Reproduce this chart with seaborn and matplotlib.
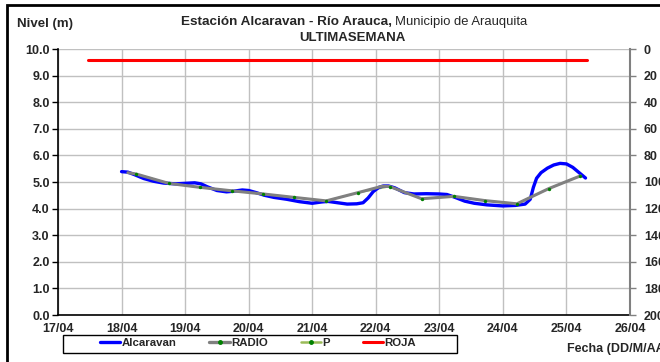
import pandas as pd
import matplotlib.pyplot as plt
import matplotlib.dates as mdates
from matplotlib.lines import Line2D
from matplotlib.patches import Rectangle
import seaborn as sns

# Alcaravan level (m), day of April (fractional)
alc_days = [18.00, 18.10, 18.20, 18.35, 18.50, 18.66, 18.85, 19.00, 19.15, 19.25,
            19.35, 19.50, 19.65, 19.75, 19.90, 20.00, 20.12, 20.25, 20.40, 20.60,
            20.80, 21.00, 21.15, 21.25, 21.40, 21.55, 21.70, 21.80, 21.88, 21.96,
            22.05, 22.12, 22.20, 22.30, 22.45, 22.60, 22.80, 23.00, 23.12, 23.25,
            23.40, 23.55, 23.75, 24.00, 24.20, 24.35, 24.43, 24.48, 24.53, 24.60,
            24.70, 24.80, 24.90, 25.00, 25.10, 25.20, 25.30]
alc_vals = [5.39, 5.37, 5.28, 5.13, 5.03, 4.96, 4.93, 4.95, 4.97, 4.93,
            4.82, 4.68, 4.63, 4.65, 4.70, 4.68, 4.60, 4.50, 4.42, 4.35,
            4.26, 4.20, 4.25, 4.27, 4.22, 4.17, 4.18, 4.22, 4.40, 4.64,
            4.80, 4.85, 4.85, 4.78, 4.60, 4.55, 4.56, 4.55, 4.53, 4.42,
            4.28, 4.20, 4.14, 4.10, 4.12, 4.17, 4.35, 4.80, 5.14, 5.35,
            5.52, 5.64, 5.70, 5.68, 5.55, 5.35, 5.15]

# RADIO readings
radio_days = [18.10, 18.23, 18.74, 19.23, 19.73, 20.23, 20.72, 21.22, 21.72,
              22.10, 22.22, 22.72, 23.23, 23.72, 24.22, 24.72, 25.22]
radio_vals = [5.35, 5.30, 4.95, 4.80, 4.67, 4.55, 4.42, 4.29, 4.60,
              4.84, 4.83, 4.37, 4.46, 4.30, 4.18, 4.75, 5.23]

# P points
p_days = [18.23, 18.74, 19.23, 19.73, 20.23, 20.72, 21.22, 21.72,
          22.22, 22.72, 23.23, 23.72, 24.22, 24.72, 25.22]
p_vals = [5.30, 4.95, 4.80, 4.67, 4.55, 4.42, 4.29, 4.60,
          4.83, 4.37, 4.46, 4.30, 4.18, 4.75, 5.23]

# ROJA alert level
roja_days = [17.47, 25.33]
roja_vals = [9.6, 9.6]

tick_days = list(range(17, 27))


def to_dates(days):
    return pd.Timestamp('2019-04-01') + pd.to_timedelta([d - 1 for d in days], unit='D')


alc = pd.DataFrame({'fecha': to_dates(alc_days), 'nivel': alc_vals})
radio = pd.DataFrame({'fecha': to_dates(radio_days), 'nivel': radio_vals})
p = pd.DataFrame({'fecha': to_dates(p_days), 'nivel': p_vals})
roja = pd.DataFrame({'fecha': to_dates(roja_days), 'nivel': roja_vals})

sns.set_style("white")
plt.rcParams['font.family'] = ['Liberation Sans', 'DejaVu Sans']

fig = plt.figure(figsize=(6.6, 3.62), dpi=100)
ax = fig.add_axes([58 / 660, 1 - 315 / 362, 572 / 660, 266 / 362])

grid_c = '#c0c0c0'
blue = '#0000ff'
gray = '#808080'
lgreen = '#9bbb59'
dgreen = '#008000'
red = '#ff0000'

sns.lineplot(data=p, x='fecha', y='nivel', ax=ax, color=lgreen, linewidth=1.2, zorder=2)
sns.lineplot(data=alc, x='fecha', y='nivel', ax=ax, color=blue, linewidth=2.4, zorder=3)
sns.lineplot(data=radio, x='fecha', y='nivel', ax=ax, color=gray, linewidth=2.2, zorder=4)
sns.scatterplot(data=p, x='fecha', y='nivel', ax=ax, color=dgreen, s=6, linewidth=0, zorder=5)
sns.lineplot(data=roja, x='fecha', y='nivel', ax=ax, color=red, linewidth=2.2, zorder=4)

ax.set_xlim(to_dates([17])[0], to_dates([26])[0])
ax.set_ylim(0, 10)
ax.set_xticks(to_dates(tick_days))
ax.xaxis.set_major_formatter(mdates.DateFormatter('%d/%m'))
ax.set_yticks([i for i in range(11)])
ax.set_yticklabels([f'{i:.1f}' for i in range(11)])
ax.set_xlabel('')
ax.set_ylabel('')
ax.grid(True, color=grid_c, linewidth=1.0)
ax.set_axisbelow(True)
for s in ['top', 'right']:
    ax.spines[s].set_visible(False)
for s in ['left', 'bottom']:
    ax.spines[s].set_color('black')
    ax.spines[s].set_linewidth(1.2)
ax.tick_params(axis='both', direction='out', length=4, width=1, color='black',
               labelsize=9, pad=2)
for lab in ax.get_xticklabels() + ax.get_yticklabels():
    lab.set_fontweight('bold')

ax2 = ax.twinx()
ax2.set_ylim(200, 0)
ax2.set_yticks(list(range(0, 201, 20)))
for s in ['top', 'left', 'bottom']:
    ax2.spines[s].set_visible(False)
ax2.spines['right'].set_color(gray)
ax2.spines['right'].set_linewidth(1.5)
ax2.tick_params(axis='y', direction='out', length=4, width=1, color=gray,
                labelsize=9, pad=6)
for lab in ax2.get_yticklabels():
    lab.set_fontweight('bold')

# titles and axis captions
fig.text(392 / 660, 1 - 22 / 362, 'Estación Alcaravan - Río Arauca,', ha='right', va='center',
         fontsize=9.7, fontweight='bold')
fig.text(395 / 660, 1 - 22 / 362, 'Municipio de Arauquita', ha='left', va='center', fontsize=9.4)
fig.text(352 / 660, 1 - 38 / 362, 'ULTIMASEMANA', ha='center', va='center',
         fontsize=9.5, fontweight='bold')
fig.text(17 / 660, 1 - 24 / 362, 'Nivel (m)', ha='left', va='center', fontsize=9.5, fontweight='bold')
fig.text(567 / 660, 1 - 349 / 362, 'Fecha (DD/M/AA)', ha='left', va='center',
         fontsize=9, fontweight='bold')

handles = [
    Line2D([], [], color=blue, linewidth=2.4),
    Line2D([], [], color=gray, linewidth=2.4, marker='o', markersize=2.5,
           markerfacecolor=dgreen, markeredgecolor=dgreen),
    Line2D([], [], color=lgreen, linewidth=1.8, marker='o', markersize=2.5,
           markerfacecolor=dgreen, markeredgecolor=dgreen),
    Line2D([], [], color=red, linewidth=2.2),
]
leg = fig.legend(handles, ['Alcaravan', 'RADIO', 'P', 'ROJA'], ncol=4,
                 loc='center', bbox_to_anchor=(258 / 660, 1 - 343 / 362),
                 fontsize=8.2, handlelength=1.8, handletextpad=0.1, columnspacing=2.9,
                 borderpad=0.25, frameon=False, borderaxespad=0)
for t in leg.get_texts():
    t.set_fontweight('bold')

# legend box, as wide as in the original
fig.patches.append(Rectangle((63 / 660, 1 - 353 / 362), 394 / 660, 18 / 362,
                             transform=fig.transFigure, fill=False, edgecolor='black',
                             linewidth=1.0))

# chart frame
fig.patches.append(Rectangle((7 / 660, -0.2), 1.2, 1 - 5 / 362 + 0.2, transform=fig.transFigure,
                             fill=False, edgecolor='black', linewidth=2, clip_on=False))

fig.savefig('out.png', dpi=100)
